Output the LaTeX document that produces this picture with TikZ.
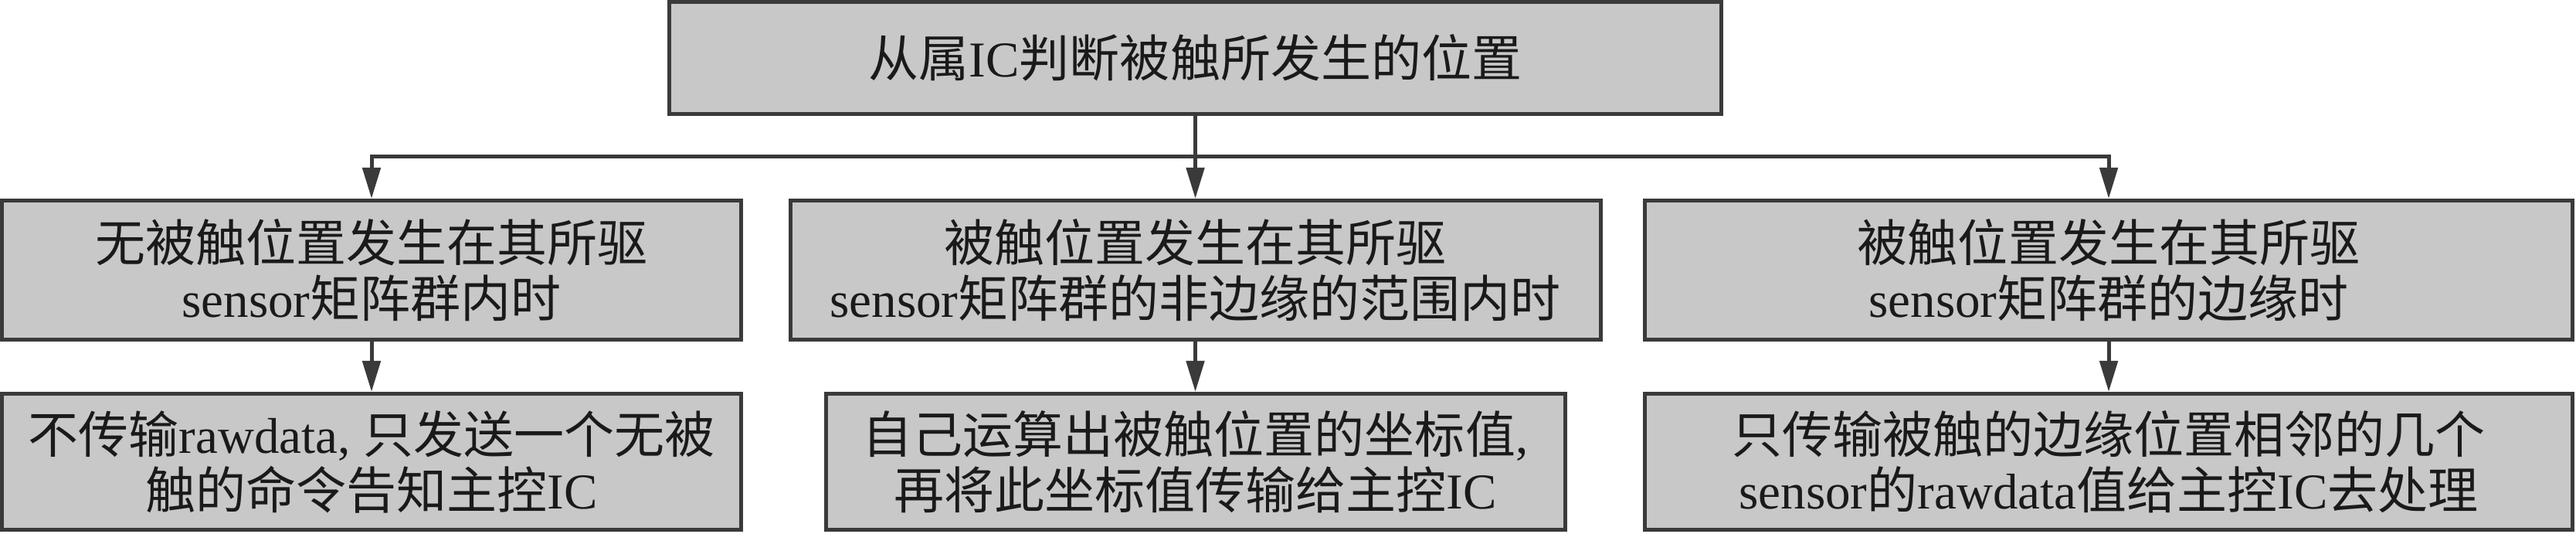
\documentclass[tikz,border=0pt]{standalone}
\usepackage{fontspec}
\setmainfont{Liberation Serif}
\newfontfamily\cjk{Noto Sans CJK SC}
\newcommand\en[1]{{\rmfamily #1}}
\usetikzlibrary{arrows.meta}
\definecolor{boxFill}{RGB}{200,200,200}
\definecolor{boxLine}{RGB}{58,58,58}
\definecolor{textInk}{RGB}{26,26,26}

\begin{document}
\begin{tikzpicture}
[-,line width=1.42pt,draw=boxLine,%
  lineDecorate/.style={-{Triangle[length=4mm,width=2.3mm]},line width=1.42pt,draw=boxLine},%
  nodeDecorate/.style={shape=rectangle,draw=boxLine,fill=boxFill,line width=1.42pt,inner sep=0pt,align=center,text=textInk,font=\cjk\fontsize{18.5}{20.5}\selectfont}]
\useasboundingbox (0,0) rectangle (33.35,-6.91);
%% top node
\node[nodeDecorate,minimum width=13.62cm,minimum height=1.45cm] (top) at (15.475,-0.75)
  {从属\en{IC}判断被触所发生的位置};
%% middle row
\node[nodeDecorate,minimum width=9.57cm,minimum height=1.80cm] (m1) at (4.81,-3.495)
  {无被触位置发生在其所驱\\\en{sensor}矩阵群内时};
\node[nodeDecorate,minimum width=10.49cm,minimum height=1.80cm] (m2) at (15.475,-3.495)
  {被触位置发生在其所驱\\\en{sensor}矩阵群的非边缘的范围内时};
\node[nodeDecorate,minimum width=12.01cm,minimum height=1.80cm] (m3) at (27.30,-3.495)
  {被触位置发生在其所驱\\\en{sensor}矩阵群的边缘时};
%% bottom row
\node[nodeDecorate,minimum width=9.57cm,minimum height=1.76cm] (b1) at (4.81,-5.975)
  {不传输\en{rawdata, }只发送一个无被\\触的命令告知主控\en{IC}};
\node[nodeDecorate,minimum width=9.57cm,minimum height=1.76cm] (b2) at (15.475,-5.975)
  {自己运算出被触位置的坐标值\en{,}\\再将此坐标值传输给主控\en{IC}};
\node[nodeDecorate,minimum width=12.01cm,minimum height=1.76cm] (b3) at (27.30,-5.975)
  {只传输被触的边缘位置相邻的几个\\\en{sensor}的\en{rawdata}值给主控\en{IC}去处理};
%% connect top to middle row
\draw (top.south) -- ++(0,-0.525) coordinate (split);
\foreach \target in {m1,m2,m3}
  \draw[lineDecorate] (split) -| (\target.north);
%% connect middle row to bottom row
\foreach \upper/\lower in {m1/b1,m2/b2,m3/b3}
  \draw[lineDecorate] (\upper.south) -- (\lower.north);
\end{tikzpicture}
\end{document}
